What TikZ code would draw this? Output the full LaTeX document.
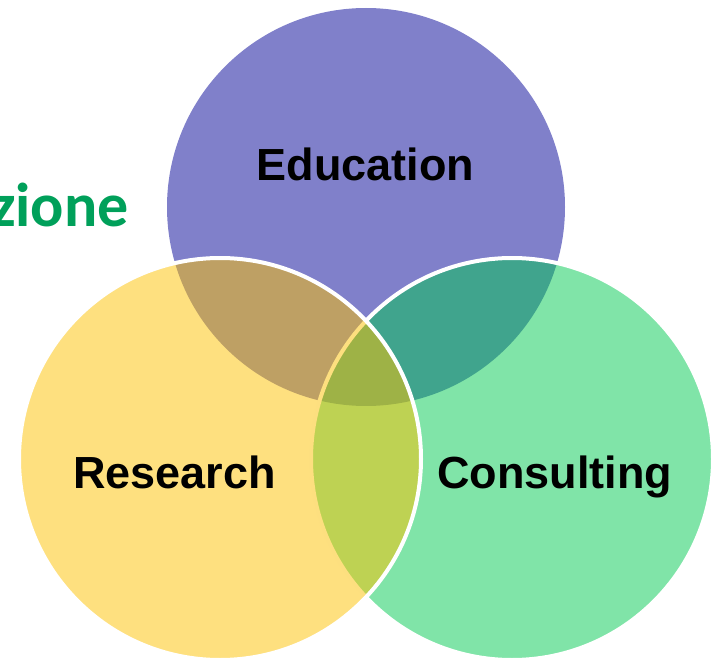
\documentclass[tikz,border=0pt]{standalone}
\usepackage{fontspec}
\setmainfont{Liberation Sans}
\newfontfamily\calibrifont{Carlito}
\definecolor{educol}{RGB}{1,1,149}
\definecolor{rescol}{RGB}{253,193,0}
\definecolor{conscol}{RGB}{1,201,81}
\definecolor{zionecol}{RGB}{0,160,90}

\begin{document}
\begin{tikzpicture}[x=1pt, y=-1pt,
  venn/.style={circle, inner sep=0pt, outer sep=0pt, fill opacity=0.5},
  ring/.style={venn, draw=white, draw opacity=1, line width=4pt, minimum size=402pt},
  lab/.style={font=\fontsize{45}{54}\selectfont\bfseries, anchor=base}
]
\useasboundingbox (0,0) rectangle (715,658);

% Circles, half transparent; the later ones carry a white rim
\node[venn, fill=educol, minimum size=398pt] (edu) at (366,207) {};
\node[ring, fill=conscol] (cons) at (512,459) {};
\node[ring, fill=rescol] (res) at (220,459) {};

% Labels
\node[lab] (edulab) at (365.5,180) {Education};
\node[lab] (reslab) at (174.5,488) {Research};
\node[lab] (conslab) at (554.5,488) {Consulting};

% Cut-off title at the left
\node[font=\calibrifont\fontsize{62}{74}\selectfont\bfseries, text=zionecol,
  anchor=base east, inner sep=0pt] (zione) at (129,226) {zione};

\end{tikzpicture}
\end{document}
